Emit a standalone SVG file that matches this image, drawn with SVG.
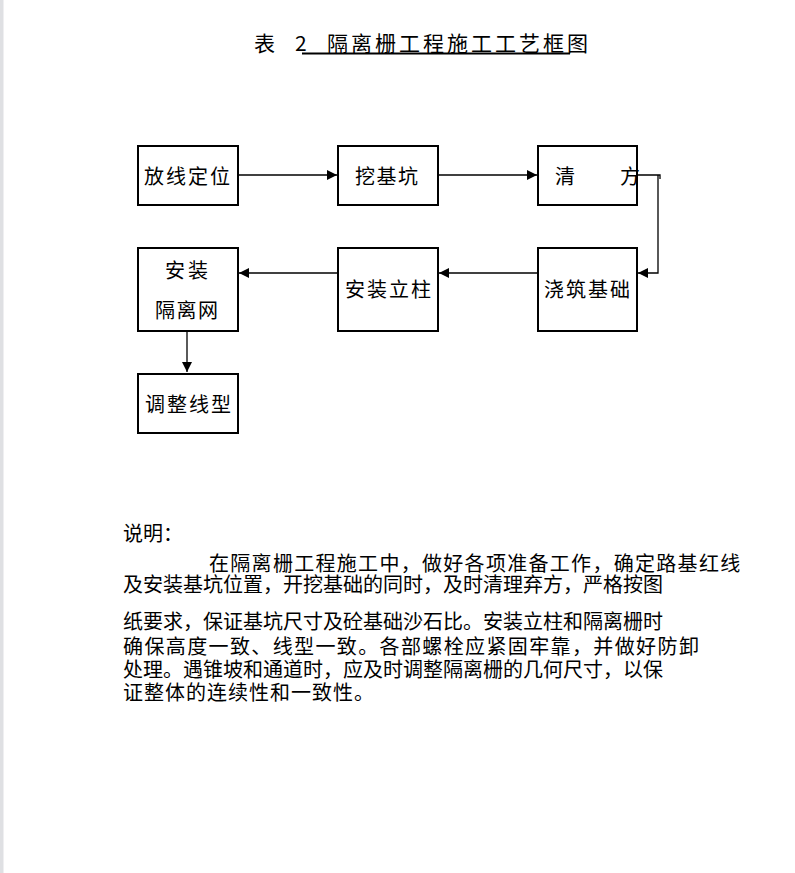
<svg xmlns="http://www.w3.org/2000/svg" width="795" height="873" viewBox="0 0 795 873">
<style>
  .box { fill: #ffffff; stroke: #000000; stroke-width: 2; }
  .t { font-family: "Noto Sans CJK SC", "Liberation Sans", sans-serif; font-size: 20px; fill: #000000; }
  .title { font-family: "Noto Sans CJK SC", "Liberation Sans", sans-serif; font-size: 21px; fill: #000000; }
  .ln { fill: none; stroke: #000000; stroke-width: 1.3; }
</style>
<defs>
  <marker id="ah" viewBox="0 0 10 10" refX="10" refY="5" markerWidth="10" markerHeight="10" markerUnits="userSpaceOnUse" orient="auto">
    <path d="M0,0 L10,5 L0,10 Z" fill="#000000"/>
  </marker>
</defs>
<rect x="0" y="0" width="795" height="873" fill="#ffffff"/>
<rect x="0" y="0" width="3.5" height="873" fill="#dfe0e3"/>

<g id="title">
  <text class="title" x="254" y="51">表</text>
  <text class="title" x="295" y="51">2</text>
  <text class="title" x="327" y="51" letter-spacing="3">隔离栅工程施工工艺框图</text>
  <line x1="302" y1="53.5" x2="570" y2="53.5" stroke="#000000" stroke-width="2"/>
</g>

<g id="connectors">
  <line class="ln" x1="239" y1="175" x2="337" y2="175" marker-end="url(#ah)"/>
  <line class="ln" x1="439" y1="175" x2="537" y2="175" marker-end="url(#ah)"/>
  <polyline class="ln" points="628,175 660,175 660,179"/>
  <polyline class="ln" points="658,175 658,273 638,273" marker-end="url(#ah)"/>
  <line class="ln" x1="537" y1="273" x2="439" y2="273" marker-end="url(#ah)"/>
  <line class="ln" x1="337" y1="273" x2="239" y2="273" marker-end="url(#ah)"/>
  <line class="ln" x1="187" y1="332" x2="187" y2="372" marker-end="url(#ah)"/>
</g>

<g id="n1">
  <rect class="box" x="138" y="146" width="100" height="59"/>
  <text class="t" x="144" y="183.5" letter-spacing="2">放线定位</text>
</g>
<g id="n2">
  <rect class="box" x="338" y="146" width="100" height="59"/>
  <text class="t" x="355" y="183.5" letter-spacing="1.5">挖基坑</text>
</g>
<g id="n3">
  <rect class="box" x="538" y="146" width="99" height="59"/>
  <text class="t" x="555" y="183.5">清</text>
  <text class="t" x="620" y="183.5">方</text>
</g>
<g id="n4">
  <rect class="box" x="538" y="248" width="99" height="83"/>
  <text class="t" x="544" y="296.5" letter-spacing="2">浇筑基础</text>
</g>
<g id="n5">
  <rect class="box" x="338" y="248" width="100" height="83"/>
  <text class="t" x="345" y="296.5" letter-spacing="2">安装立柱</text>
</g>
<g id="n6">
  <rect class="box" x="138" y="248" width="100" height="83"/>
  <text class="t" x="165" y="277.5" letter-spacing="3">安装</text>
  <text class="t" x="155" y="317.5" letter-spacing="1.5">隔离网</text>
</g>
<g id="n7">
  <rect class="box" x="138" y="374" width="100" height="59"/>
  <text class="t" x="145" y="411.5" letter-spacing="2">调整线型</text>
</g>

<g id="notes">
  <text class="t" x="123" y="540.5">说明：</text>
  <text class="t">
    <tspan x="209" y="570.5" letter-spacing="1.3">在隔离栅工程施工中，做好各项准备工作，确定路基红线</tspan>
    <tspan x="123" y="591.5" letter-spacing="0">及安装基坑位置，开挖基础的同时，及时清理弃方，严格按图</tspan>
    <tspan x="123" y="628.5" letter-spacing="0">纸要求，保证基坑尺寸及砼基础沙石比。安装立柱和隔离栅时</tspan>
    <tspan x="123" y="653.5" letter-spacing="1.38">确保高度一致、线型一致。各部螺栓应紧固牢靠，并做好防卸</tspan>
    <tspan x="123" y="676.5" letter-spacing="0">处理。遇锥坡和通道时，应及时调整隔离栅的几何尺寸，以保</tspan>
    <tspan x="123" y="699.5" letter-spacing="1">证整体的连续性和一致性。</tspan>
  </text>
</g>
</svg>
